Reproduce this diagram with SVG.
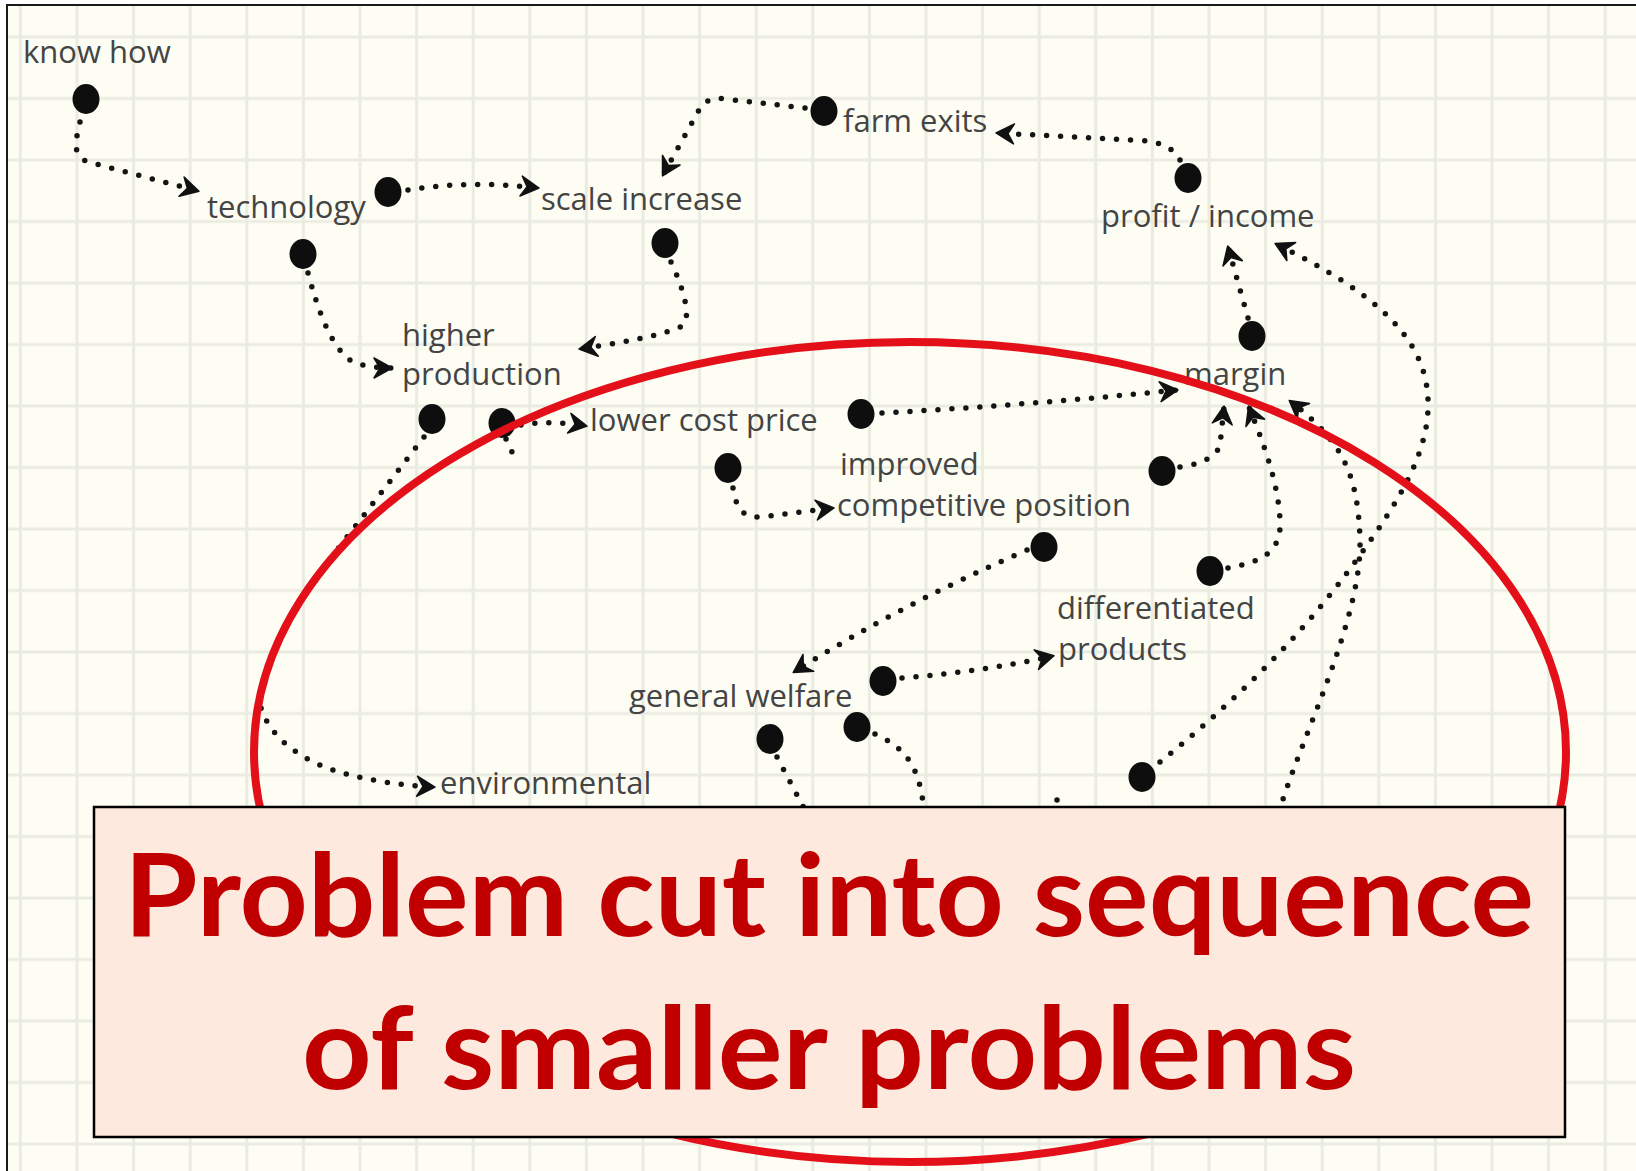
<svg xmlns="http://www.w3.org/2000/svg" width="1636" height="1171" viewBox="0 0 1636 1171">
<defs>
<pattern id="grid" patternUnits="userSpaceOnUse" x="48.7" y="6.25" width="56.6" height="61.5">
<rect width="56.6" height="61.5" fill="#FDFDF3"/>
<path d="M28.3,0 V61.5 M0,30.75 H56.6" stroke="#EBECE1" stroke-width="3"/>
</pattern>
<marker id="ah" markerUnits="userSpaceOnUse" viewBox="-20 -13 26 26" markerWidth="26" markerHeight="26" refX="0" refY="0" orient="auto">
<path d="M-17,-10 L1,0 L-17,10 L-11,0 Z" fill="#111" stroke="#111" stroke-width="1.5" stroke-linejoin="round"/>
</marker>
<style>
.c{fill:none;stroke:#141414;stroke-width:5.5;stroke-linecap:round;stroke-dasharray:0 14}
.d{fill:#0e0e0e}
.l{font-family:"Open Sans","Liberation Sans",sans-serif;font-size:31px;fill:#444444}
.big{font-family:Lato,"Open Sans",sans-serif;font-weight:700;font-size:115px;fill:#C00000}
</style>
</defs>
<rect width="1636" height="1171" fill="#ffffff"/>
<rect x="7" y="5" width="1629" height="1166" fill="url(#grid)"/>
<path d="M7,1171 V5 H1636" fill="none" stroke="#1a1a1a" stroke-width="2"/>

<g id="connectors">
<path class="c" d="M80,122 C 76,140 70,158 92,163 L 198,191" marker-end="url(#ah)"/>
<path class="c" d="M408,190 Q 470,180 538,188" marker-end="url(#ah)"/>
<path class="c" d="M308,273 C 318,310 330,345 350,360 Q 365,368 391,368" marker-end="url(#ah)"/>
<path class="c" d="M805,108 L 725,99 Q 705,96 698,112 L 663,175" marker-end="url(#ah)"/>
<path class="c" d="M1180,160 Q 1170,140 1130,140 L 997,133" marker-end="url(#ah)"/>
<path class="c" d="M671,262 C 684,290 692,318 682,326 Q 665,336 580,349" marker-end="url(#ah)"/>
<path class="c" d="M424,437 L 324,567 A 656 410 0 0 0 259,700 C 266,738 305,764 350,775 Q 390,785 434,787" marker-end="url(#ah)"/>
<path class="c" d="M521,425 Q 550,420 586,426" marker-end="url(#ah)"/>
<path class="c" d="M506,439 L 512,452"/>
<path class="c" d="M882,413 Q 1030,405 1177,390" marker-end="url(#ah)"/>
<path class="c" d="M733,488 C 736,505 740,518 760,517 L 833,508" marker-end="url(#ah)"/>
<path class="c" d="M1180,467 Q 1215,462 1220,445 L 1224,407" marker-end="url(#ah)"/>
<path class="c" d="M1228,568 C 1262,562 1282,552 1280,520 C 1278,480 1262,440 1249,407" marker-end="url(#ah)"/>
<path class="c" d="M1248,318 L 1228,247" marker-end="url(#ah)"/>
<path class="c" d="M1027,550 Q 900,605 794,672" marker-end="url(#ah)"/>
<path class="c" d="M902,678 Q 980,672 1053,656" marker-end="url(#ah)"/>
<path class="c" d="M777,757 L 806,812"/>
<path class="c" d="M875,734 C 905,748 920,765 924,812"/>
<path class="c" d="M1160,762 C 1230,705 1300,640 1360,555 C 1400,500 1430,450 1428,400 C 1426,340 1380,295 1276,244" marker-end="url(#ah)"/>
<path class="c" d="M1279,812 C 1300,740 1362,620 1360,540 C 1358,470 1340,440 1290,401" marker-end="url(#ah)"/>
<path class="c" d="M1057,800 L 1058,812"/>
</g>

<g id="n-knowhow"><ellipse class="d" cx="86" cy="99" rx="13.5" ry="15"/><text class="l" x="23" y="63">know how</text></g>
<g id="n-technology"><ellipse class="d" cx="388" cy="192" rx="13.5" ry="15"/><ellipse class="d" cx="303" cy="254" rx="13.5" ry="15"/><text class="l" x="207" y="218">technology</text></g>
<g id="n-scale"><ellipse class="d" cx="665" cy="243" rx="13.5" ry="15"/><text class="l" x="541" y="210">scale increase</text></g>
<g id="n-farmexits"><ellipse class="d" cx="824" cy="111" rx="13.5" ry="15"/><text class="l" x="843" y="132">farm exits</text></g>
<g id="n-profit"><ellipse class="d" cx="1188" cy="178" rx="13.5" ry="15"/><text class="l" x="1101" y="227">profit / income</text></g>
<g id="n-higher"><ellipse class="d" cx="432" cy="419" rx="13.5" ry="15"/><ellipse class="d" cx="502" cy="423" rx="13.5" ry="15"/><text class="l" x="402" y="346">higher</text><text class="l" x="402" y="385">production</text></g>
<g id="n-lowercost"><ellipse class="d" cx="861" cy="414" rx="13.5" ry="15"/><ellipse class="d" cx="728" cy="468" rx="13.5" ry="15"/><text class="l" x="590" y="431">lower cost price</text></g>
<g id="n-margin"><ellipse class="d" cx="1252" cy="336" rx="13.5" ry="15"/><text class="l" x="1184" y="385">margin</text></g>
<g id="n-competitive"><ellipse class="d" cx="1162" cy="471" rx="13.5" ry="15"/><ellipse class="d" cx="1044" cy="547" rx="13.5" ry="15"/><text class="l" x="840" y="475">improved</text><text class="l" x="837" y="516">competitive position</text></g>
<g id="n-differentiated"><ellipse class="d" cx="1210" cy="571" rx="13.5" ry="15"/><text class="l" x="1057" y="619">differentiated</text><text class="l" x="1058" y="660">products</text></g>
<g id="n-welfare"><ellipse class="d" cx="883" cy="681" rx="13.5" ry="15"/><ellipse class="d" cx="770" cy="739" rx="13.5" ry="15"/><ellipse class="d" cx="857" cy="727" rx="13.5" ry="15"/><text class="l" x="629" y="707">general welfare</text></g>
<g id="n-environmental"><text class="l" x="440" y="794">environmental</text></g>
<g id="n-hidden"><ellipse class="d" cx="1142" cy="777" rx="13.5" ry="15"/></g>

<ellipse id="scope" cx="910" cy="752" rx="656" ry="410" fill="none" stroke="#E3101A" stroke-width="8"/>

<g id="caption">
<rect x="94" y="807" width="1471" height="330" fill="#FDE9DD" stroke="#000" stroke-width="2.5"/>
<text class="big" x="829" y="936" text-anchor="middle" textLength="1410" lengthAdjust="spacingAndGlyphs">Problem cut into sequence</text>
<text class="big" x="829" y="1089" text-anchor="middle" textLength="1054" lengthAdjust="spacingAndGlyphs">of smaller problems</text>
</g>
</svg>
